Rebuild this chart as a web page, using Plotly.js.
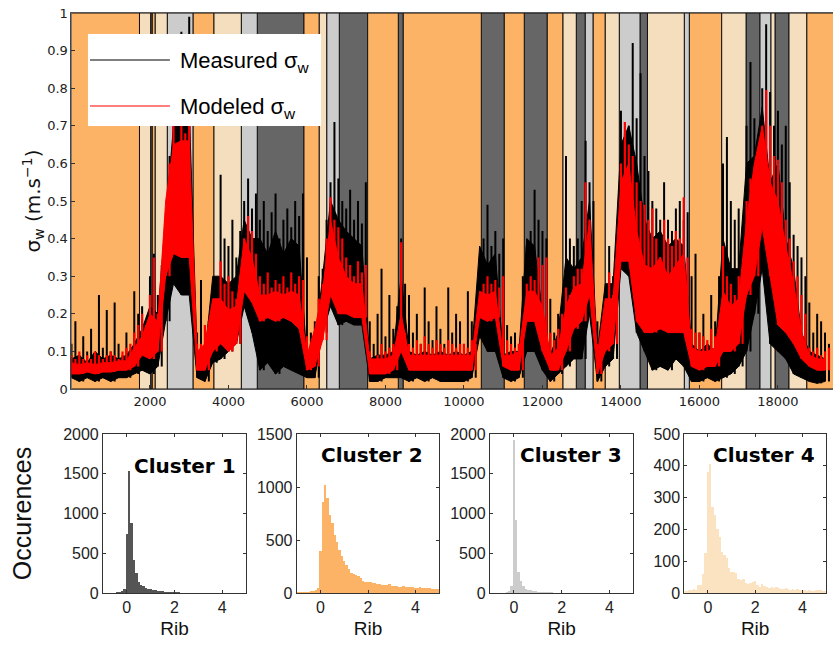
<!DOCTYPE html>
<html><head><meta charset="utf-8">
<script src="https://cdn.plot.ly/plotly-3.0.1.min.js"></script>
<style>html,body{margin:0;padding:0;background:#fff}#chart{width:833px;height:648px}</style>
</head><body><div id="chart"></div>
<script>
// ---- Cluster segments (time index) ----
const seg_start = [0,1733,2018,2059,2135,2441,3096,3631,4327,4734,5924,6314,6503,6824,7547,8327,8454,10442,11028,11537,12123,12524,12862,13092,13288,13601,13958,14486,14676,15614,15742,16567,17187,17543,17823,17925,18282,18733];
const seg_end   = [1733,2018,2059,2135,2441,3096,3631,4327,4734,5924,6314,6503,6824,7547,8327,8454,10442,11028,11537,12123,12524,12862,13092,13288,13601,13958,14486,14676,15614,15742,16567,17187,17543,17823,17925,18282,18733,19500];
const seg_cluster = [2,4,1,2,4,3,2,4,3,1,2,4,3,1,2,1,2,1,2,1,2,4,1,3,2,4,3,1,4,3,2,4,1,3,4,1,4,2];

// ---- sigma_w dense core, read per block of 200 time steps ----
const block_step = 200;
const measured_lo = [
0.03,0.02,0.03,0.02,0.03,0.02,0.03,0.03,0.04,0.05,
0.04,0.06,0.18,0.28,0.25,0.25,0.03,0.02,0.07,0.08,
0.10,0.12,0.22,0.15,0.05,0.07,0.04,0.06,0.05,0.04,
0.03,0.03,0.15,0.22,0.17,0.18,0.17,0.17,0.02,0.02,
0.03,0.03,0.03,0.02,0.03,0.02,0.03,0.02,0.02,0.02,
0.02,0.03,0.14,0.10,0.10,0.03,0.02,0.03,0.10,0.10,
0.05,0.02,0.04,0.06,0.08,0.08,0.20,0.02,0.06,0.08,
0.32,0.30,0.15,0.10,0.05,0.06,0.05,0.08,0.06,0.02,
0.02,0.03,0.02,0.03,0.04,0.06,0.10,0.20,0.32,0.12,
0.10,0.08,0.04,0.03,0.02,0.015,0.02];
const measured_typ = [
0.08,0.09,0.07,0.10,0.08,0.09,0.08,0.09,0.12,0.16,
0.22,0.20,0.45,0.70,0.72,0.75,0.10,0.09,0.30,0.30,
0.28,0.30,0.45,0.40,0.40,0.36,0.42,0.36,0.40,0.38,
0.08,0.12,0.30,0.50,0.45,0.42,0.40,0.38,0.08,0.09,
0.09,0.10,0.30,0.10,0.09,0.10,0.09,0.10,0.09,0.10,
0.09,0.10,0.38,0.33,0.36,0.09,0.10,0.10,0.40,0.38,
0.20,0.09,0.15,0.35,0.32,0.35,0.50,0.10,0.28,0.28,
0.65,0.70,0.60,0.45,0.40,0.42,0.38,0.40,0.38,0.12,
0.10,0.12,0.10,0.40,0.32,0.32,0.60,0.62,0.75,0.55,
0.60,0.40,0.32,0.15,0.10,0.09,0.08];
const modeled_lo = [
0.04,0.04,0.045,0.04,0.045,0.045,0.05,0.05,0.06,0.09,
0.08,0.10,0.30,0.36,0.35,0.35,0.05,0.05,0.10,0.12,
0.10,0.12,0.26,0.23,0.18,0.19,0.18,0.19,0.18,0.16,
0.05,0.06,0.13,0.25,0.20,0.20,0.19,0.19,0.04,0.04,
0.04,0.05,0.10,0.05,0.05,0.05,0.05,0.05,0.05,0.05,
0.05,0.05,0.19,0.18,0.19,0.06,0.05,0.05,0.18,0.18,
0.10,0.05,0.05,0.10,0.16,0.18,0.25,0.04,0.10,0.12,
0.34,0.34,0.18,0.15,0.15,0.16,0.15,0.15,0.15,0.06,
0.05,0.06,0.06,0.10,0.10,0.12,0.25,0.30,0.43,0.30,
0.17,0.15,0.12,0.08,0.06,0.05,0.05];
const modeled_hi = [
0.07,0.065,0.07,0.065,0.07,0.07,0.075,0.075,0.11,0.14,
0.20,0.18,0.50,0.65,0.66,0.66,0.10,0.12,0.24,0.24,
0.21,0.22,0.40,0.35,0.25,0.25,0.26,0.25,0.26,0.25,
0.09,0.16,0.26,0.45,0.35,0.30,0.28,0.28,0.08,0.08,
0.08,0.09,0.20,0.09,0.09,0.09,0.09,0.09,0.09,0.09,
0.09,0.09,0.26,0.25,0.26,0.09,0.09,0.10,0.26,0.26,
0.22,0.09,0.11,0.22,0.27,0.28,0.45,0.09,0.24,0.24,
0.55,0.60,0.42,0.33,0.32,0.35,0.30,0.33,0.36,0.11,
0.10,0.10,0.11,0.26,0.22,0.24,0.45,0.60,0.70,0.55,
0.50,0.38,0.28,0.15,0.09,0.08,0.08];
// ---- sigma_w spike peaks, read per 100 time steps ----
const sample_step = 100;
const measured_peak = [
0.12,0.18,0.09,0.14,0.10,0.16,0.09,0.25,0.11,0.21, 0.10,0.23,0.12,0.09,0.15,0.10,0.26,0.20,0.22,0.18,
0.30,0.36,0.25,0.33,0.45,0.62,0.80,0.72,0.95,0.85, 0.99,0.15,0.15,0.29,0.12,0.18,0.20,0.15,0.57,0.40,
0.38,0.45,0.35,0.42,0.50,0.56,0.48,0.52,0.45,0.50, 0.42,0.47,0.52,0.40,0.45,0.48,0.43,0.50,0.46,0.52,
0.35,0.15,0.18,0.30,0.32,0.45,0.55,0.71,0.56,0.50, 0.48,0.53,0.45,0.50,0.44,0.55,0.18,0.12,0.20,0.32,
0.14,0.25,0.16,0.22,0.40,0.28,0.25,0.15,0.20,0.12, 0.27,0.18,0.13,0.22,0.16,0.12,0.27,0.15,0.20,0.18,
0.12,0.26,0.18,0.20,0.22,0.40,0.49,0.38,0.42,0.36, 0.40,0.17,0.14,0.15,0.12,0.30,0.38,0.42,0.53,0.45,
0.42,0.40,0.24,0.15,0.20,0.18,0.62,0.40,0.38,0.40, 0.50,0.66,0.55,0.50,0.18,0.14,0.12,0.38,0.30,0.36,
0.74,0.68,0.70,0.92,0.72,0.84,0.62,0.58,0.50,0.48, 0.45,0.55,0.45,0.42,0.48,0.50,0.45,0.47,0.30,0.36,
0.15,0.20,0.12,0.25,0.18,0.30,0.60,0.67,0.50,0.45, 0.48,0.40,0.70,0.87,0.72,0.65,0.80,0.97,0.79,0.70,
0.74,0.65,0.70,0.55,0.41,0.38,0.35,0.30,0.23,0.15, 0.20,0.18,0.15,0.12];
const modeled_peak = [
0.09,0.08,0.10,0.08,0.09,0.08,0.10,0.09,0.08,0.09, 0.10,0.09,0.08,0.10,0.11,0.12,0.15,0.17,0.20,0.17,
0.25,0.35,0.20,0.22,0.45,0.60,0.70,0.65,0.70,0.68, 0.72,0.12,0.12,0.12,0.17,0.10,0.12,0.17,0.34,0.28,
0.30,0.26,0.24,0.30,0.40,0.46,0.42,0.36,0.30,0.28, 0.31,0.27,0.29,0.28,0.30,0.27,0.31,0.28,0.30,0.29,
0.14,0.10,0.15,0.24,0.28,0.40,0.51,0.45,0.43,0.40, 0.35,0.33,0.30,0.34,0.31,0.33,0.10,0.08,0.09,0.12,
0.10,0.11,0.12,0.13,0.39,0.15,0.12,0.11,0.13,0.12, 0.14,0.12,0.11,0.13,0.12,0.11,0.13,0.12,0.11,0.12,
0.12,0.11,0.13,0.12,0.14,0.28,0.30,0.28,0.29,0.27, 0.30,0.13,0.12,0.11,0.12,0.15,0.28,0.30,0.29,0.35,
0.33,0.35,0.15,0.13,0.16,0.20,0.27,0.25,0.30,0.32, 0.32,0.55,0.45,0.20,0.12,0.10,0.15,0.31,0.25,0.28,
0.60,0.71,0.65,0.62,0.55,0.50,0.49,0.45,0.48,0.40, 0.35,0.45,0.40,0.38,0.42,0.40,0.51,0.35,0.16,0.15,
0.15,0.14,0.13,0.16,0.14,0.16,0.38,0.30,0.28,0.25, 0.30,0.28,0.50,0.56,0.58,0.60,0.70,0.795,0.70,0.62,
0.61,0.55,0.45,0.40,0.34,0.30,0.25,0.20,0.11,0.10, 0.11,0.09,0.10,0.11];
const time_ticks = [2000,4000,6000,8000,10000,12000,14000,16000,18000];

// ---- Rib histograms ----
const rib_bins = [-1.0,-0.9,-0.8,-0.7,-0.6,-0.5,-0.4,-0.3,-0.2,-0.1,0.0,0.1,0.2,0.3,0.4,0.5,0.6,0.7,0.8,0.9,1.0,1.1,1.2,1.3,1.4,1.5,1.6,1.7,1.8,1.9,2.0,2.1,2.2,2.3,2.4,2.5,2.6,2.7,2.8,2.9,3.0,3.1,3.2,3.3,3.4,3.5,3.6,3.7,3.8,3.9,4.0,4.1,4.2,4.3,4.4,4.5,4.6,4.7,4.8,4.9,5.0];
const cluster1_counts = [0,0,0,2,3,5,8,12,20,45,740,1530,880,420,250,135,105,82,65,55,45,38,32,28,24,20,17,14,12,10,9,8,7,6,6,5,5,4,4,4,3,3,3,3,2,3,2,2,2,2,2,2,1,2,1,1,1,1,1,1,1];
const cluster2_counts = [5,5,8,8,10,12,15,20,28,50,400,860,1020,900,740,660,550,480,410,345,300,265,225,190,178,172,157,140,115,108,105,100,95,95,88,85,80,75,72,85,68,70,65,60,60,62,55,55,58,52,50,50,52,48,48,45,45,42,40,38,35];
const cluster3_counts = [0,0,0,1,2,3,5,10,25,90,1930,920,265,145,85,55,42,32,25,20,16,13,11,10,9,8,7,6,6,5,5,4,4,4,4,3,3,3,3,3,3,2,2,2,2,2,2,2,2,2,2,2,1,1,1,1,1,1,1,1,1];
const cluster4_counts = [5,5,10,10,12,8,25,25,60,125,380,405,270,245,200,175,130,120,110,80,65,65,62,45,42,45,32,28,32,35,38,25,20,28,22,18,15,18,16,20,15,14,12,15,12,10,12,10,14,8,10,8,6,8,5,6,10,8,10,6,5];
const hist_ymax = [2000,1500,2000,500];
const hist_dtick = [500,500,500,100];
const rib_ticks = [0,2,4];

const cluster_colors = {1:'#666666', 2:'#FDB366', 3:'#CCCCCC', 4:'#F4DEBE'};
const hist_colors = ['#555555','#FDB366','#CCCCCC','#FBE3C2'];

const traces = [];
[1,2,3,4].forEach(c => {
  const idx = seg_cluster.map((v,i)=>v===c?i:-1).filter(i=>i>=0);
  traces.push({
    type:'bar', xaxis:'x', yaxis:'y',
    x: idx.map(i=>seg_start[i]),
    width: idx.map(i=>seg_end[i]-seg_start[i]),
    y: idx.map(()=>1),
    offset: 0,
    marker:{color:cluster_colors[c], line:{color:'#111', width:1}},
    showlegend:false, hoverinfo:'skip', name:'Cluster '+c
  });
});
const tb = measured_lo.map((_,i)=>i*block_step);
const ts = measured_peak.map((_,i)=>i*sample_step);
const spikeBase = (lo, j) => lo[Math.min(lo.length-1, Math.floor(j*sample_step/block_step))];
// measured sigma_w (black)
traces.push({type:'scatter', mode:'lines', x:tb, y:measured_lo, line:{color:'#000', width:1}, showlegend:false, xaxis:'x', yaxis:'y', hoverinfo:'skip'});
traces.push({type:'scatter', mode:'lines', x:tb, y:measured_typ, fill:'tonexty', fillcolor:'#000', line:{color:'#000', width:1}, name:'Measured σw', showlegend:false, xaxis:'x', yaxis:'y'});
traces.push({type:'scatter', mode:'markers', x:ts, y:measured_peak, marker:{size:0.1, color:'#000'},
  error_y:{type:'data', symmetric:false, array:measured_peak.map(()=>0), arrayminus:measured_peak.map((p,j)=>Math.max(0,p-spikeBase(measured_lo,j))), width:0, thickness:2, color:'#000'},
  showlegend:false, xaxis:'x', yaxis:'y', hoverinfo:'skip'});
// modeled sigma_w (red)
traces.push({type:'scatter', mode:'lines', x:tb, y:modeled_lo, line:{color:'#FF0000', width:1}, showlegend:false, xaxis:'x', yaxis:'y', hoverinfo:'skip'});
traces.push({type:'scatter', mode:'lines', x:tb, y:modeled_hi, fill:'tonexty', fillcolor:'#FF0000', line:{color:'#FF0000', width:1}, name:'Modeled σw', showlegend:false, xaxis:'x', yaxis:'y'});
traces.push({type:'scatter', mode:'markers', x:ts, y:modeled_peak, marker:{size:0.1, color:'#FF0000'},
  error_y:{type:'data', symmetric:false, array:modeled_peak.map(()=>0), arrayminus:modeled_peak.map((p,j)=>Math.max(0,p-spikeBase(modeled_lo,j))), width:0, thickness:2.2, color:'#FF0000'},
  showlegend:false, xaxis:'x', yaxis:'y', hoverinfo:'skip'});

const counts = [cluster1_counts, cluster2_counts, cluster3_counts, cluster4_counts];
counts.forEach((cnt,k)=>{
  traces.push({type:'bar', x:rib_bins, y:cnt, xaxis:'x'+(k+2), yaxis:'y'+(k+2),
    marker:{color:hist_colors[k], line:{width:0}}, showlegend:false, name:'Cluster '+(k+1)});
});

const tickFont = {family:'DejaVu Sans', size:13, color:'#222'};
const hFont = {family:'Liberation Sans, Arial, sans-serif', size:16, color:'#222'};
const layout = {
  width:833, height:648, margin:{l:0,r:0,t:0,b:0},
  paper_bgcolor:'#fff', plot_bgcolor:'#fff',
  barmode:'overlay', bargap:0, showlegend:false,
  xaxis:{domain:[0.0858,1], range:[0,19403], tickvals:time_ticks, tickformat:'d', ticks:'inside', ticklen:4, tickcolor:'#333',
    showline:true, mirror:true, linecolor:'#555', linewidth:1, showgrid:false, zeroline:false, layer:'above traces', tickfont:tickFont, anchor:'y'},
  yaxis:{domain:[0.3997,0.9799], range:[0,1], dtick:0.1, ticks:'inside', ticklen:4, tickcolor:'#333',
    showline:true, mirror:true, linecolor:'#444', linewidth:1, showgrid:false, zeroline:false, layer:'above traces', tickfont:tickFont, anchor:'x',
    title:{text:'σ<sub>w</sub> (m.s<sup>−1</sup>)', font:{family:'DejaVu Sans', size:20, color:'#111'}, standoff:0}},
  shapes:[], annotations:[]
};
const xdoms = [[0.1236,0.2953],[0.3562,0.5274],[0.5882,0.7603],[0.8215,0.9916]];
const ann_pos = [[0.945,0.80],[0.90,0.868],[0.935,0.868],[0.936,0.868]];
for (let k=0;k<4;k++){
  const n = k+2;
  layout['xaxis'+n] = {domain:xdoms[k], range:[-1,5], tickvals:rib_ticks, ticks:'inside', ticklen:3, tickcolor:'#333',
    showline:true, mirror:'allticks', linecolor:'#333', linewidth:1, showgrid:false, zeroline:false, anchor:'y'+n, tickfont:hFont,
    title:{text:'Rib', font:{family:'Liberation Sans, Arial, sans-serif', size:19, color:'#111'}, standoff:6}};
  layout['yaxis'+n] = {domain:[0.0849,0.3302], range:[0,hist_ymax[k]], dtick:hist_dtick[k], ticks:'inside', ticklen:3, tickcolor:'#333',
    showline:true, mirror:'allticks', linecolor:'#333', linewidth:1, showgrid:false, zeroline:false, anchor:'x'+n, tickfont:hFont};
  layout.annotations.push({xref:'x'+n+' domain', yref:'y'+n+' domain', x:ann_pos[k][0], y:ann_pos[k][1], xanchor:'right', yanchor:'middle',
    text:'Cluster '+(k+1), showarrow:false, font:{family:'DejaVu Sans', size:20, color:'#000', weight:'bold'}});
}
layout.yaxis2.title = {text:'Occurences', font:{family:'Liberation Sans, Arial, sans-serif', size:25, color:'#111'}, standoff:24};

// legend box (drawn manually to match the long line samples)
layout.shapes.push({type:'rect', xref:'paper', yref:'paper', x0:0.1056, x1:0.3854, y0:0.8056, y1:0.9475, fillcolor:'#fff', line:{width:0}, layer:'above'});
layout.shapes.push({type:'line', xref:'paper', yref:'paper', x0:0.108, x1:0.204, y0:0.9074, y1:0.9074, line:{color:'#000', width:1.2}});
layout.shapes.push({type:'line', xref:'paper', yref:'paper', x0:0.108, x1:0.204, y0:0.8364, y1:0.8364, line:{color:'#FF0000', width:1.2}});
layout.annotations.push({xref:'paper', yref:'paper', x:0.214, y:0.905, xanchor:'left', yanchor:'middle', showarrow:false,
  text:'Measured σ<sub>w</sub>', font:{family:'Liberation Sans, Arial, sans-serif', size:22, color:'#000'}});
layout.annotations.push({xref:'paper', yref:'paper', x:0.214, y:0.834, xanchor:'left', yanchor:'middle', showarrow:false,
  text:'Modeled σ<sub>w</sub>', font:{family:'Liberation Sans, Arial, sans-serif', size:22, color:'#000'}});

Plotly.newPlot('chart', traces, layout, {staticPlot:true, displayModeBar:false});
</script></body></html>
